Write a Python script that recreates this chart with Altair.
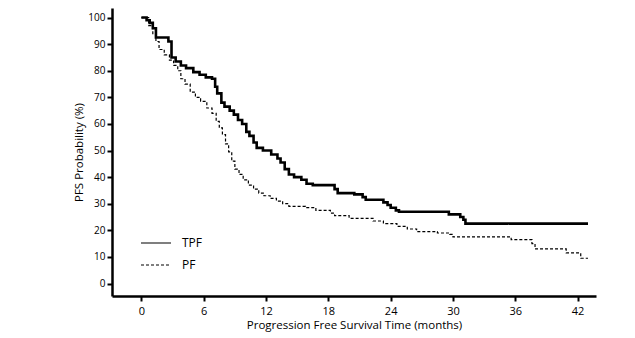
import altair as alt
import pandas as pd

# ---- data ----
tpf_time = [0, 0.5, 0.8, 1.1, 1.4, 2.6, 2.9, 3.3, 3.8, 4.3, 5.0, 5.6, 6.2, 6.8, 7.1, 7.3,
            7.7, 8.0, 8.5, 8.9, 9.3, 9.7, 10.1, 10.4, 10.8, 11.1, 11.7, 12.5, 13.1, 13.4,
            13.8, 14.2, 14.7, 15.4, 15.9, 16.5, 18.6, 18.9, 20.5, 21.3, 21.6, 23.3, 23.7,
            24.0, 24.5, 24.8, 29.6, 30.7, 31.0, 31.2, 43.0]
tpf_surv = [100, 99, 98, 96, 92.5, 91, 85, 83.5, 82, 81, 79.5, 78.5, 77.5, 77, 74, 71.5,
            68, 66.5, 65, 63.5, 61.5, 60, 57, 55.5, 53, 51, 50, 48.5, 47, 45.5,
            43, 41, 40, 39, 37.5, 37, 35.5, 34, 33.5, 32.5, 31.5, 30.5, 29.5,
            28.5, 27.5, 27, 26, 25, 24, 22.5, 22.5]

pf_time = [0, 0.7, 1.1, 1.4, 1.7, 2.2, 2.7, 3.1, 3.5, 3.8, 4.2, 4.7, 5.2, 5.7, 6.3, 6.8,
           7.2, 7.5, 7.8, 8.1, 8.4, 8.7, 9.0, 9.4, 9.8, 10.3, 10.8, 11.3, 11.8, 12.4, 13.0,
           13.6, 14.2, 15.8, 16.8, 18.2, 18.6, 20.0, 22.3, 23.3, 24.6, 25.6, 26.5, 28.5,
           29.7, 30.0, 35.6, 37.6, 37.9, 40.9, 42.3, 43.0]
pf_surv = [100, 97, 94, 91, 88, 86, 84, 82, 80, 77, 75, 72, 70, 68.5, 66, 64,
           61, 58.5, 56, 52.5, 49.5, 46, 43, 41, 39, 37, 35.5, 34, 33, 32, 31,
           30, 29, 28.5, 27.5, 26.5, 25.5, 24.5, 23.5, 22.5, 21.5, 20.5, 19.5, 19,
           18.5, 17.5, 16.5, 15, 13, 11.5, 9.5, 9.5]

series_names = ["TPF", "PF"]
x_ticks = [0, 6, 12, 18, 24, 30, 36, 42]
y_ticks = [0, 10, 20, 30, 40, 50, 60, 70, 80, 90, 100]

df = pd.concat([
    pd.DataFrame({"time": tpf_time, "surv": tpf_surv, "arm": series_names[0]}),
    pd.DataFrame({"time": pf_time, "surv": pf_surv, "arm": series_names[1]}),
])

FONT = "Open Sans"

chart = alt.Chart(df).mark_line(interpolate="step-after", color="black").encode(
    x=alt.X("time:Q", scale=alt.Scale(domain=[-2.83, 43.77], nice=False, zero=False),
            axis=alt.Axis(values=x_ticks, title="Progression Free Survival Time (months)",
                          labelFontSize=11, titleFontSize=11.5, titleFontWeight="normal",
                          labelPadding=4, titlePadding=3)),
    y=alt.Y("surv:Q", scale=alt.Scale(domain=[-4.7, 103.6], nice=False, zero=False),
            axis=alt.Axis(values=y_ticks, title="PFS Probability (%)",
                          labelFontSize=10, titleFontSize=11.5, titleFontWeight="normal",
                          labelPadding=2, titlePadding=3)),
    strokeDash=alt.StrokeDash("arm:N", sort=series_names,
                              scale=alt.Scale(domain=series_names, range=[[1, 0], [3, 2]]),
                              legend=alt.Legend(title=None, orient="none", legendX=28, legendY=219,
                                                symbolType="stroke", symbolSize=900,
                                                symbolStrokeWidth=1.2, symbolStrokeColor="black",
                                                labelFontSize=12, labelFont=FONT, labelOffset=10,
                                                rowPadding=-4)),
    strokeWidth=alt.condition(alt.datum.arm == series_names[0], alt.value(2.6), alt.value(1.2)),
).properties(
    width=484, height=288,
    padding={"left": 112, "top": 8, "right": 39, "bottom": 42},
    autosize=alt.AutoSizeParams(type="none"),
).configure_view(stroke=None).configure_axis(
    grid=False, domainColor="black", domainWidth=2.5, tickColor="black", tickWidth=2,
    tickSize=5, labelColor="black", titleColor="black", labelFont=FONT, titleFont=FONT,
)

chart.save("out.html", embed_options={"renderer": "svg", "actions": False})
